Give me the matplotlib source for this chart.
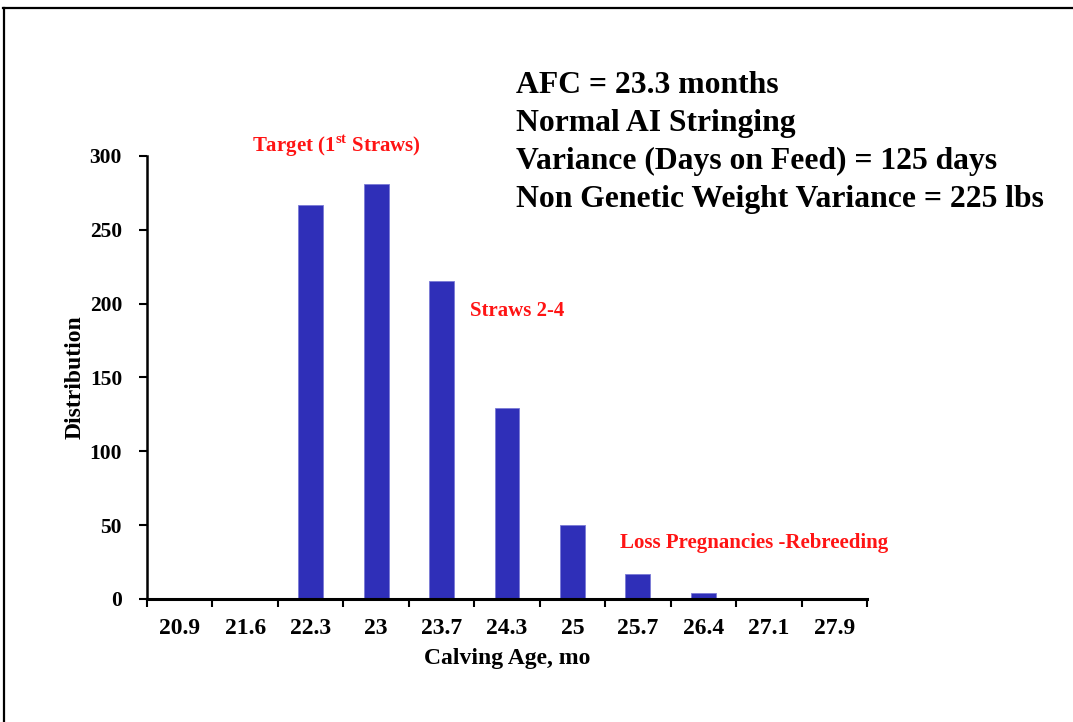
import numpy as np
import matplotlib
matplotlib.use('Agg')
import matplotlib.pyplot as plt
from matplotlib.lines import Line2D

# Calving age classes (months) and number of heifers in each
ages = ['20.9', '21.6', '22.3', '23', '23.7', '24.3', '25', '25.7', '26.4', '27.1', '27.9']
counts = [0, 0, 267, 281, 215, 129, 50, 17, 4, 0, 0]

info_lines = ['AFC = 23.3 months',
              'Normal AI Stringing',
              'Variance (Days on Feed) = 125 days',
              'Non Genetic Weight Variance = 225 lbs']

plt.rcParams['font.family'] = 'Liberation Serif'
plt.rcParams['font.weight'] = 'bold'
plt.rcParams['axes.labelweight'] = 'bold'
plt.rcParams['mathtext.fontset'] = 'custom'
plt.rcParams['mathtext.rm'] = 'Liberation Serif:bold'
plt.rcParams['mathtext.bf'] = 'Liberation Serif:bold'

BAR = '#2f2fb8'
RED = '#ff1414'

fig = plt.figure(figsize=(10.73, 7.22), dpi=100)
ax = fig.add_axes([0.137, 0.1704, 0.671, 0.6136])

x = np.arange(len(ages))
ax.bar(x, counts, width=0.38, color=BAR, edgecolor='#7a7ad6', linewidth=0.6, zorder=2)

ax.set_xlim(-0.5, len(ages) - 0.5)
ax.set_ylim(0, 300)
ax.set_yticks(np.arange(0, 301, 50))

# ticks sit on class boundaries, labels in the middle of each class
ax.set_xticks(np.arange(-0.5, len(ages)), labels=[])
ax.set_xticks(x, labels=ages, minor=True)
ax.tick_params(axis='x', which='major', direction='out', length=6, width=1.5)
ax.tick_params(axis='x', which='minor', length=0, pad=14, labelsize=17)
ax.tick_params(axis='y', direction='out', length=6, width=1.5, pad=12, labelsize=15.5)

for side in ('top', 'right'):
    ax.spines[side].set_visible(False)
ax.spines['bottom'].set_linewidth(2.2)
ax.spines['left'].set_linewidth(1.8)

ax.set_xlabel('Calving Age, mo', fontsize=17, labelpad=6)
ax.set_ylabel('Distribution', fontsize=17, labelpad=3)

# red notes on the histogram
ax.text(2.39, 307, r'Target (1$^{\mathrm{st}}$ Straws)', color=RED, fontsize=15,
        ha='center', va='center', clip_on=False)
ax.text(4.435, 195, 'Straws 2-4', color=RED, fontsize=15, ha='left', va='center')
ax.text(6.73, 38, 'Loss Pregnancies -Rebreeding', color=RED, fontsize=15,
        ha='left', va='center')

# scenario summary, top right
for i, line in enumerate(info_lines):
    fig.text(0.481, 1 - (93 + 38 * i) / 722, line, fontsize=22.8, ha='left', va='baseline')

# partial slide frame
fig.add_artist(Line2D([0.003, 1.0], [0.989, 0.989], color='black', lw=1.6,
                      transform=fig.transFigure))
fig.add_artist(Line2D([0.0037, 0.0037], [0.0, 0.989], color='black', lw=1.6,
                      transform=fig.transFigure))

fig.savefig('out.png', dpi=100)
